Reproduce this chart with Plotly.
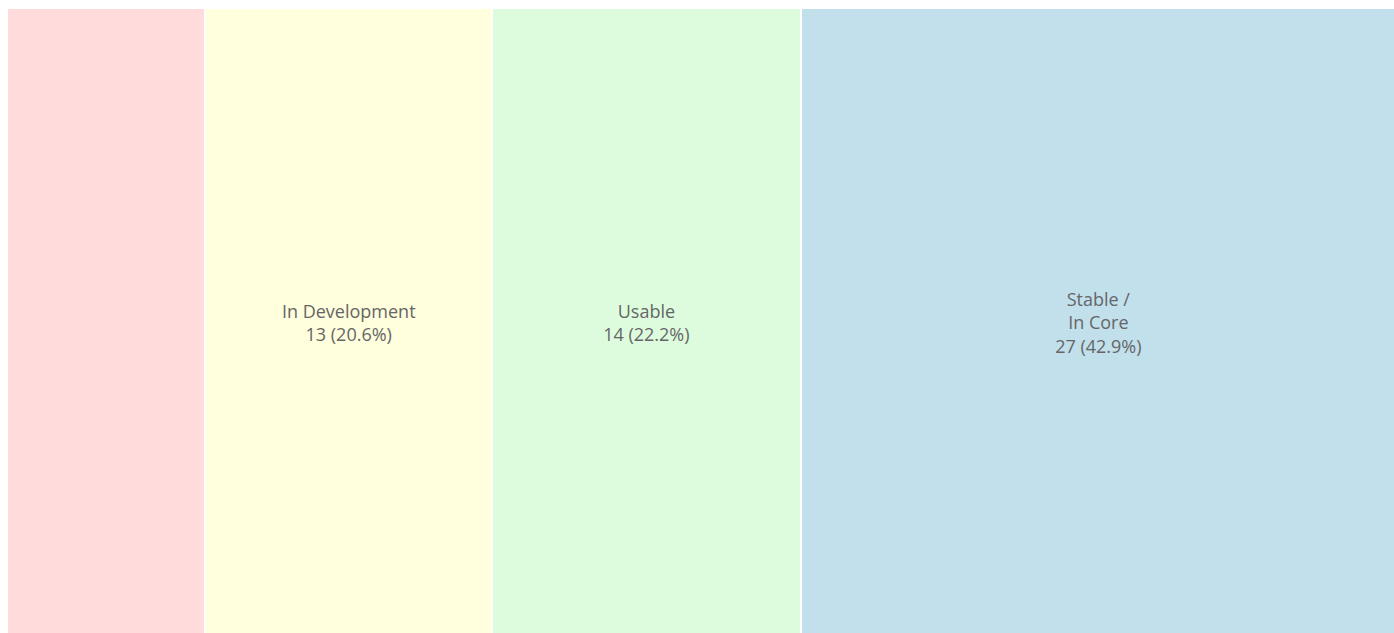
import plotly.graph_objects as go

categories = ["", "In Development", "Usable", "Stable /<br>In Core"]
values = [9, 13, 14, 27]
colors = ["#FFDBDB", "#FFFEDD", "#DDFCDD", "#C1E0EC"]

total = sum(values)
fig = go.Figure()
for cat, v, c in zip(categories, values, colors):
    txt = "" if cat == "" else f"{cat}<br>{v} ({v / total * 100:.1f}%)"
    fig.add_trace(go.Bar(
        x=[v], y=[0], orientation="h",
        marker=dict(color=c, line=dict(color="white", width=2)),
        text=[txt], textposition="inside", insidetextanchor="middle",
        textfont=dict(family="Open Sans", size=18, color="#666666"),
        hoverinfo="skip", showlegend=False,
    ))

fig.update_layout(
    barmode="stack", bargap=0,
    width=1396, height=637,
    margin=dict(l=7, r=0, t=8, b=0),
    paper_bgcolor="white", plot_bgcolor="white",
    xaxis=dict(visible=False, range=[0, total], fixedrange=True),
    yaxis=dict(visible=False, range=[-0.5, 0.5], fixedrange=True),
    uniformtext=dict(mode=False),
)
fig.write_html(
    "out.html",
    config={"displayModeBar": False, "staticPlot": True},
    post_script=(
        "document.documentElement.style.overflow='hidden';"
        "document.body.style.overflow='hidden';"
        "document.body.style.margin='0';"
    ),
)
